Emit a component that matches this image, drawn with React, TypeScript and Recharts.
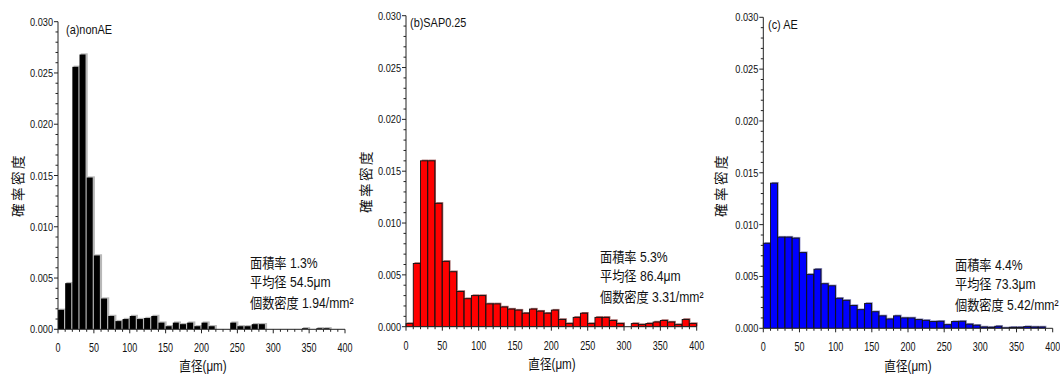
import { BarChart, Bar, XAxis, YAxis } from 'recharts'

// bin centres (10 µm wide bins)
const binMids = [
  5, 15, 25, 35, 45, 55, 65, 75, 85, 95,
  105, 115, 125, 135, 145, 155, 165, 175, 185, 195,
  205, 215, 225, 235, 245, 255, 265, 275, 285, 295,
  305, 315, 325, 335, 345, 355, 365, 375, 385, 395,
]

const nonAE = [
  0.0019, 0.0045, 0.0256, 0.0268, 0.0148, 0.0072, 0.003, 0.0013, 0.0008, 0.001,
  0.0013, 0.001, 0.0011, 0.0013, 0.00065, 0.0003, 0.00065, 0.0005, 0.00065, 0.0003,
  0.00065, 0.0003, 0, 0, 0.00065, 0.0003, 0.0003, 0.0005, 0.0005, 0,
  0, 0, 0, 0, 0.0001, 0, 0.0001, 0.0001, 0, 0,
]

const sap025 = [
  0.0003, 0.0061, 0.016, 0.016, 0.0119, 0.0063, 0.0053, 0.0034, 0.0027, 0.003,
  0.003, 0.0022, 0.0022, 0.0019, 0.0017, 0.0016, 0.0013, 0.0017, 0.0015, 0.0013,
  0.0016, 0.0007, 0.0003, 0.0009, 0.0013, 0.0003, 0.0009, 0.0009, 0.0006, 0.0003,
  0, 0.0003, 0.0002, 0.0003, 0.00045, 0.0006, 0.00045, 0.0002, 0.0007, 0.0003,
]

const ae = [
  0.0082, 0.014, 0.0088, 0.0088, 0.0087, 0.0073, 0.0052, 0.0057, 0.0043, 0.0041,
  0.0029, 0.0027, 0.0022, 0.0018, 0.0024, 0.0016, 0.0012, 0.0009, 0.0012, 0.001,
  0.001, 0.00084, 0.00077, 0.00065, 0.00068, 0.00035, 0.00065, 0.00068, 0.0004, 0.0003,
  0.00013, 0.0001, 0.0002, 0.00004, 0.0001, 0.0001, 0.00016, 0.00013, 0.00013, 0,
]

const yTicks = [
  0, 0.001, 0.002, 0.003, 0.004, 0.005, 0.006, 0.007, 0.008, 0.009, 0.01,
  0.011, 0.012, 0.013, 0.014, 0.015, 0.016, 0.017, 0.018, 0.019, 0.02,
  0.021, 0.022, 0.023, 0.024, 0.025, 0.026, 0.027, 0.028, 0.029, 0.03,
]

const binHalf = 5
const xMax = 400

const sans = "'Liberation Sans', Arial, sans-serif"
const cjk = "'Noto Sans CJK JP', 'Noto Sans CJK SC', sans-serif"
const axisColor = '#222'
const ink = '#111'

function EdgeTick({ x, y, v }: { x: number; y: number; v: number }) {
  const major = v % 50 === 0
  return (
    <g>
      <line x1={x} x2={x} y1={y} y2={y + (major ? 4 : 2.5)} stroke={axisColor} />
      {major && (
        <text transform={`translate(${x},${y + 23}) scale(0.72,1)`} textAnchor="middle" fontSize={12.5} fontFamily={sans} fill={ink}>
          {v}
        </text>
      )}
    </g>
  )
}

// category ticks sit at bin centres; draw the bin edges instead
function XTick({ x, y, payload, half }: any) {
  const mid = payload.value
  const lo = mid - binHalf
  const hi = mid + binHalf
  return (
    <g>
      <EdgeTick x={x - half} y={y} v={lo} />
      {hi === xMax && <EdgeTick x={x + half} y={y} v={hi} />}
    </g>
  )
}

function YTick({ x, y, payload }: any) {
  const v = payload.value
  const major = Math.round(v * 1000) % 5 === 0
  return (
    <g>
      <line x1={x - (major ? 4 : 2.5)} x2={x} y1={y} y2={y} stroke={axisColor} />
      {major && (
        <text transform={`translate(${x - 5},${y + 4}) scale(0.8,1)`} textAnchor="end" fontSize={11.5} fontFamily={sans} fill={ink}>
          {v.toFixed(3)}
        </text>
      )}
    </g>
  )
}

const makeShape = (fill: string, stroke: string, shadow: string, gap: number) => (props: any) => {
  const { x, y, width, height } = props
  if (!height || height <= 0) return <g />
  return (
    <g>
      <rect x={x + 1.2} y={y - 1.2} width={width} height={height + 1.2} fill={shadow} />
      <rect x={x} y={y} width={width - gap} height={height} fill={fill} stroke={stroke} strokeWidth={stroke === 'none' ? 0 : 0.9} />
    </g>
  )
}

interface PanelProps {
  left: number
  width: number
  margin: { top: number; right: number; bottom: number; left: number }
  values: number[]
  fill: string
  stroke: string
  shadow: string
  gap: number
}

const Y_W = 40

function Panel({ left, width, margin, values, fill, stroke, shadow, gap }: PanelProps) {
  const data = binMids.map((mid, i) => ({ mid, v: values[i] }))
  const half = (width - margin.left - margin.right - Y_W) / binMids.length / 2
  return (
    <div style={{ position: 'absolute', left, top: 0 }}>
      <BarChart width={width} height={375} data={data} margin={margin} barCategoryGap={0} barGap={0}>
        <XAxis
          dataKey="mid"
          interval={0}
          tickSize={0}
          tickMargin={0}
          tickLine={false}
          tick={(p: any) => <XTick {...p} half={half} />}
          stroke={axisColor}
          height={30}
        />
        <YAxis
          domain={[0, 0.03]}
          ticks={yTicks}
          interval={0}
          tickSize={0}
          tickMargin={0}
          tickLine={false}
          tick={<YTick />}
          width={Y_W}
          stroke={axisColor}
          allowDataOverflow
        />
        <Bar dataKey="v" isAnimationActive={false} shape={makeShape(fill, stroke, shadow, gap)} />
      </BarChart>
    </div>
  )
}

// one line of condensed text (CJK part + latin part)
function Line({ x, y, cj, lat, sx = 0.87, size = 14 }: any) {
  return (
    <text transform={`translate(${x},${y}) scale(${sx},1)`} fontSize={size} fill={ink}>
      {cj && <tspan fontFamily={cjk}>{cj}</tspan>}
      {lat && <tspan fontFamily={sans}>{lat}</tspan>}
    </text>
  )
}

function Notes({ x, y, area, mean, count }: any) {
  return (
    <g>
      <Line x={x} y={y} cj="面積率" lat={` ${area}%`} />
      <Line x={x} y={y + 19} cj="平均径" lat={` ${mean}μm`} />
      <Line x={x} y={y + 40} cj="個数密度" lat={` ${count}/mm²`} />
    </g>
  )
}

function YLabel({ x, y }: any) {
  return (
    <text transform={`translate(${x},${y}) rotate(-90)`} textAnchor="middle" fontFamily={cjk} fontSize={13.5} letterSpacing={2.5} fill={ink}>
      確率密度
    </text>
  )
}

function XLabel({ x, y }: any) {
  return (
    <text transform={`translate(${x},${y}) scale(0.83,1)`} textAnchor="middle" fontSize={14} fill={ink}>
      <tspan fontFamily={cjk}>直径</tspan>
      <tspan fontFamily={sans}>(μm)</tspan>
    </text>
  )
}

export default function App() {
  return (
    <div style={{ position: 'absolute', left: 0, top: 0, width: 1060, height: 375, background: '#fff', overflow: 'hidden' }}>
      <Panel left={0} width={360} margin={{ top: 21.7, right: 15, bottom: 15.7, left: 18 }} values={nonAE} fill="#000" stroke="none" shadow="#b8b8b8" gap={1} />
      <Panel left={350} width={360} margin={{ top: 15.7, right: 13.3, bottom: 18.3, left: 16 }} values={sap025} fill="#ff0000" stroke="#111" shadow="#a06060" gap={0} />
      <Panel left={705} width={355} margin={{ top: 17.3, right: 7.3, bottom: 16.7, left: 18.3 }} values={ae} fill="#0000ff" stroke="#111" shadow="#9090c8" gap={0} />

      <svg width={1060} height={375} style={{ position: 'absolute', left: 0, top: 0, pointerEvents: 'none' }}>
        <Line x={66} y={34} lat="(a)nonAE" sx={0.84} size={13} />
        <Line x={410} y={27} lat="(b)SAP0.25" sx={0.84} size={13} />
        <Line x={768} y={29} lat="(c) AE" sx={0.84} size={13} />

        <Notes x={250} y={268} area="1.3" mean="54.5" count="1.94" />
        <Notes x={600} y={262} area="5.3" mean="86.4" count="3.31" />
        <Notes x={955} y={270} area="4.4" mean="73.3" count="5.42" />

        <YLabel x={23} y={185} />
        <YLabel x={371} y={181} />
        <YLabel x={726} y={185} />

        <XLabel x={203} y={371} />
        <XLabel x={552} y={369} />
        <XLabel x={908} y={371} />
      </svg>
    </div>
  )
}
